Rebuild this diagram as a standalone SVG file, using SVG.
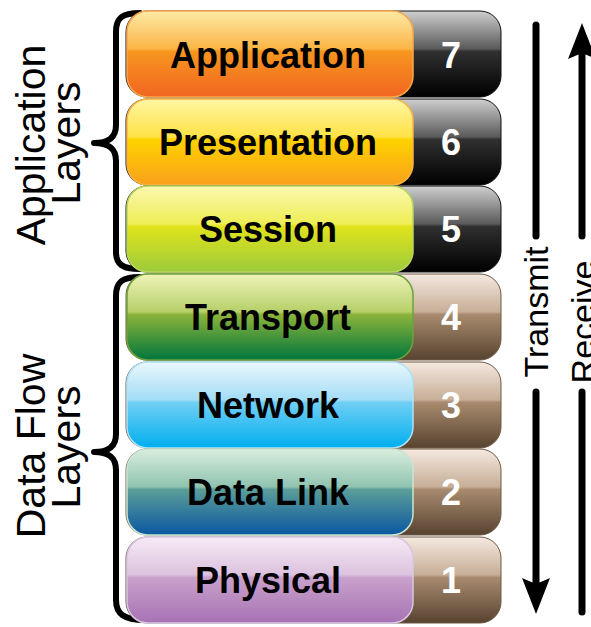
<svg xmlns="http://www.w3.org/2000/svg" width="591" height="627" viewBox="0 0 591 627">
<style>
.lbl{font-family:"Liberation Sans",Arial,sans-serif;font-weight:bold;font-size:36px;fill:#000;text-anchor:middle}
.num{font-family:"Liberation Sans",Arial,sans-serif;font-weight:bold;font-size:36px;fill:#fff;text-anchor:middle}
.side{font-family:"Liberation Sans",Arial,sans-serif;font-size:41px;fill:#000;text-anchor:middle}
.dir{font-family:"Liberation Sans",Arial,sans-serif;font-size:34px;fill:#000;text-anchor:middle}
.brace{fill:none;stroke:#000;stroke-width:6;stroke-linecap:round;stroke-linejoin:round}
.arr{fill:none;stroke:#000;stroke-width:7;stroke-linecap:round}
.dark{fill:url(#gDark);stroke:#111;stroke-width:1}
.brown{fill:url(#gBrown);stroke:#6e5a45;stroke-width:1}
.gloss{fill:url(#gGloss)}
</style>
<defs>
<linearGradient id="gDark" x1="0" y1="0" x2="0" y2="1"><stop offset="0" stop-color="#cfcfcf"/><stop offset="0.44" stop-color="#5a5a5a"/><stop offset="0.47" stop-color="#303030"/><stop offset="1" stop-color="#000"/></linearGradient>
<linearGradient id="gBrown" x1="0" y1="0" x2="0" y2="1"><stop offset="0" stop-color="#f4e9e0"/><stop offset="0.44" stop-color="#c7ae97"/><stop offset="0.47" stop-color="#a88b6e"/><stop offset="1" stop-color="#574330"/></linearGradient>
<linearGradient id="g7" x1="0" y1="0" x2="0" y2="1"><stop offset="0" stop-color="#fdeaa6"/><stop offset="0.44" stop-color="#fbb445"/><stop offset="0.47" stop-color="#f7961e"/><stop offset="1" stop-color="#f26522"/></linearGradient>
<linearGradient id="g6" x1="0" y1="0" x2="0" y2="1"><stop offset="0" stop-color="#fff6a4"/><stop offset="0.44" stop-color="#ffe247"/><stop offset="0.47" stop-color="#ffd200"/><stop offset="1" stop-color="#f9a11b"/></linearGradient>
<linearGradient id="g5" x1="0" y1="0" x2="0" y2="1"><stop offset="0" stop-color="#fbf8b0"/><stop offset="0.44" stop-color="#eeee55"/><stop offset="0.47" stop-color="#e1e31c"/><stop offset="1" stop-color="#9ccb3b"/></linearGradient>
<linearGradient id="g4" x1="0" y1="0" x2="0" y2="1"><stop offset="0" stop-color="#eff4b8"/><stop offset="0.44" stop-color="#b5cf68"/><stop offset="0.47" stop-color="#8cb43b"/><stop offset="1" stop-color="#00763d"/></linearGradient>
<linearGradient id="g3" x1="0" y1="0" x2="0" y2="1"><stop offset="0" stop-color="#eaf7fd"/><stop offset="0.44" stop-color="#a2ddf6"/><stop offset="0.47" stop-color="#70cff4"/><stop offset="1" stop-color="#00aeef"/></linearGradient>
<linearGradient id="g2" x1="0" y1="0" x2="0" y2="1"><stop offset="0" stop-color="#d9eedd"/><stop offset="0.44" stop-color="#90c3b1"/><stop offset="0.47" stop-color="#5b9e99"/><stop offset="1" stop-color="#0a57a1"/></linearGradient>
<linearGradient id="g1" x1="0" y1="0" x2="0" y2="1"><stop offset="0" stop-color="#f6eaf5"/><stop offset="0.44" stop-color="#dcc2df"/><stop offset="0.47" stop-color="#c9a1cc"/><stop offset="1" stop-color="#a773b4"/></linearGradient>
<marker id="ah" viewBox="0 0 36 28" refX="6" refY="14" markerWidth="36" markerHeight="28" markerUnits="userSpaceOnUse" orient="auto">
<path d="M0,0 L36,14 L0,28 L6,14 Z" fill="#000"/>
</marker>
</defs>

<g id="braces">
<path class="brace" d="M140 13 C122 13 116 18 116 32 L116 125 C116 138 108 143 94 143 C108 143 116 148 116 161 L116 252 C116 264 122 269 140 269"/>
<path class="brace" d="M140 277 C122 277 116 282 116 296 L116 434 C116 447 108 452 94 452 C108 452 116 457 116 470 L116 600 C116 614 124 620 145 620"/>
</g>

<g id="layer7">
<rect class="dark" x="126" y="11" width="375" height="86" rx="21"/>
<rect x="127" y="11" width="286" height="86" rx="21" fill="url(#g7)" stroke="#f9a84c" stroke-width="1.5"/>
<text class="lbl" x="268" y="68">Application</text>
<text class="num" x="451" y="68">7</text>
</g>
<g id="layer6">
<rect class="dark" x="126" y="99" width="375" height="86" rx="21"/>
<rect x="127" y="99" width="286" height="86" rx="21" fill="url(#g6)" stroke="#fbb344" stroke-width="1.5"/>
<text class="lbl" x="268" y="155">Presentation</text>
<text class="num" x="451" y="155">6</text>
</g>
<g id="layer5">
<rect class="dark" x="126" y="186" width="375" height="86" rx="21"/>
<rect x="127" y="186" width="286" height="86" rx="21" fill="url(#g5)" stroke="#b9d65c" stroke-width="1.5"/>
<text class="lbl" x="268" y="242">Session</text>
<text class="num" x="451" y="242">5</text>
</g>
<g id="layer4">
<rect class="brown" x="126" y="274" width="375" height="86" rx="21"/>
<rect x="127" y="274" width="286" height="86" rx="21" fill="url(#g4)" stroke="#6ea23b" stroke-width="1.5"/>
<text class="lbl" x="268" y="330">Transport</text>
<text class="num" x="451" y="330">4</text>
</g>
<g id="layer3">
<rect class="brown" x="126" y="362" width="375" height="86" rx="21"/>
<rect x="127" y="362" width="286" height="86" rx="21" fill="url(#g3)" stroke="#aee2f7" stroke-width="1.5"/>
<text class="lbl" x="268" y="418">Network</text>
<text class="num" x="451" y="418">3</text>
</g>
<g id="layer2">
<rect class="brown" x="126" y="449" width="375" height="86" rx="21"/>
<rect x="127" y="449" width="286" height="86" rx="21" fill="url(#g2)" stroke="#c8e5d1" stroke-width="1.5"/>
<text class="lbl" x="268" y="505">Data Link</text>
<text class="num" x="451" y="505">2</text>
</g>
<g id="layer1">
<rect class="brown" x="126" y="537" width="375" height="86" rx="21"/>
<rect x="127" y="537" width="286" height="86" rx="21" fill="url(#g1)" stroke="#d9c6e2" stroke-width="1.5"/>
<text class="lbl" x="268" y="593">Physical</text>
<text class="num" x="451" y="593">1</text>
</g>

<g id="group-labels">
<text class="side" transform="translate(45,145) rotate(-90)">Application</text>
<text class="side" transform="translate(80,143) rotate(-90)">Layers</text>
<text class="side" transform="translate(45,446) rotate(-90)">Data Flow</text>
<text class="side" transform="translate(80,447) rotate(-90)">Layers</text>
</g>

<g id="connectors">
<line class="arr" x1="536" y1="25" x2="536" y2="236"/>
<line class="arr" x1="536" y1="392" x2="536" y2="584" marker-end="url(#ah)"/>
<line class="arr" x1="582" y1="236" x2="582" y2="53" marker-end="url(#ah)"/>
<line class="arr" x1="582" y1="392" x2="582" y2="612"/>
<text class="dir" transform="translate(548,312) rotate(-90)">Transmit</text>
<text class="dir" transform="translate(595,322) rotate(-90)">Receive</text>
</g>
</svg>
